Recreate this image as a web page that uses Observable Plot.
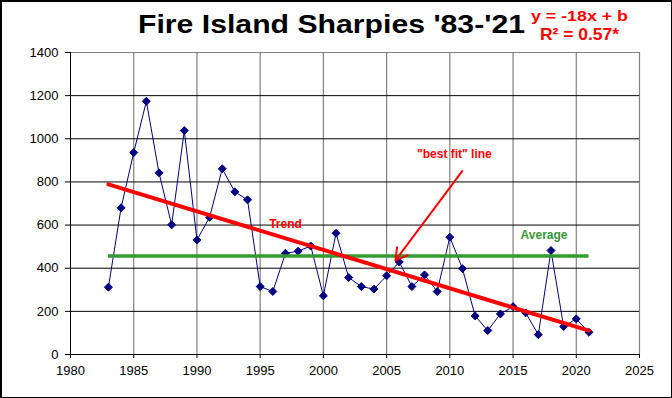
<!DOCTYPE html>
<html>
<head>
<meta charset="utf-8">
<script src="https://cdn.jsdelivr.net/npm/d3@7"></script>
<script src="https://cdn.jsdelivr.net/npm/@observablehq/plot@0.6"></script>
<style>
  html, body { margin: 0; padding: 0; background: white; }
  #wrap { position: relative; width: 672px; height: 398px; overflow: hidden; background: white; }
  #chart { position: absolute; left: 0; top: 0; }
  .t { position: absolute; white-space: nowrap; font-family: "Liberation Sans", Arial, sans-serif;
       font-weight: bold; line-height: 1; transform-origin: 0 0; }
  #title { left: 138px; top: 11px; font-size: 26px; color: black; }
  #eq1 { left: 531px; top: 7.6px; font-size: 15px; color: #ff0000; }
  #eq2 { left: 540px; top: 26.3px; font-size: 17px; color: #ff0000; }
  #border { position: absolute; left: 0; top: 0; width: 672px; height: 398px; box-sizing: border-box;
            border-style: solid; border-color: black; border-width: 2px 1px 1px 2px; pointer-events: none; }
</style>
</head>
<body>
<div id="wrap">
  <div id="chart"></div>
  <div class="t" id="title">Fire Island Sharpies '83-'21</div>
  <div class="t" id="eq1">y = -18x + b</div>
  <div class="t" id="eq2">R² = 0.57*</div>
  <div id="border"></div>
</div>
<script>
// ---- data ----
const years = [1983, 1984, 1985, 1986, 1987, 1988, 1989, 1990, 1991, 1992, 1993, 1994,
               1995, 1996, 1997, 1998, 1999, 2000, 2001, 2002, 2003, 2004, 2005, 2006,
               2007, 2008, 2009, 2010, 2011, 2012, 2013, 2014, 2015, 2016, 2017, 2018,
               2019, 2020, 2021];
const counts = [312, 680, 936, 1174, 842, 601, 1038, 531, 636, 861, 754, 717,
                315, 292, 469, 479, 503, 272, 562, 357, 315, 303, 365, 429,
                315, 369, 292, 544, 398, 179, 111, 188, 222, 193, 92, 482,
                130, 165, 103];
const averageValue = 457;
const xTicks = [1980, 1985, 1990, 1995, 2000, 2005, 2010, 2015, 2020, 2025];
const yTicks = [0, 200, 400, 600, 800, 1000, 1200, 1400];
const noteTexts = ['"best fit" line', "Trend", "Average"];
const noteYears = [2010.36, 1997.0, 2017.45];
const noteValues = [930, 605, 551];
const arrowFrom = [2010.98, 850];
const arrowTo = [2005.7, 436];

const data = years.map((year, i) => ({year, count: counts[i]}));
const notes = noteTexts.map((text, i) => ({text, x: noteYears[i], y: noteValues[i]}));
const arrows = [{x1: arrowFrom[0], y1: arrowFrom[1], x2: arrowTo[0], y2: arrowTo[1]}];

const chart = Plot.plot({
  width: 672,
  height: 398,
  marginLeft: 70,
  marginRight: 33,
  marginTop: 52,
  marginBottom: 44,
  style: {fontFamily: '"Liberation Sans", Arial, sans-serif', fontSize: "13px", color: "black", background: "transparent", overflow: "visible"},
  x: {domain: [1980, 2025]},
  y: {domain: [0, 1400]},
  marks: [
    Plot.ruleX(xTicks.slice(1), {stroke: "#808080", strokeWidth: 1.2, strokeOpacity: 1}),
    Plot.ruleY(yTicks.filter(v => v > 0 && v < 1400), {stroke: "black", strokeWidth: 1}),
    Plot.ruleY([1400], {stroke: "#808080", strokeWidth: 1}),
    Plot.axisX({ticks: xTicks, tickSize: 4, tickPadding: 7, tickFormat: d => String(d), label: null, fontSize: 13}),
    Plot.axisY({ticks: yTicks, tickSize: 5, tickPadding: 7, tickFormat: d => String(d), label: null, fontSize: 13}),
    Plot.ruleY([0], {stroke: "black", strokeWidth: 1}),
    Plot.ruleX([1980], {stroke: "black", strokeWidth: 1}),
    Plot.lineY(data, {x: "year", y: "count", stroke: "#000080", strokeWidth: 1}),
    Plot.dot(data, {x: "year", y: "count", symbol: "diamond2", r: 3.6, fill: "#000080", stroke: "#000080", strokeWidth: 1}),
    Plot.ruleY([averageValue], {x1: d3.min(years), x2: d3.max(years), stroke: "#339933", strokeWidth: 3.5}),
    Plot.linearRegressionY(data, {x: "year", y: "count", stroke: "#ff0000", strokeWidth: 4, ci: 0}),
    Plot.arrow(arrows, {x1: "x1", y1: "y1", x2: "x2", y2: "y2", stroke: "#ff0000", strokeWidth: 2, headLength: 10, bend: 0}),
    Plot.text(notes.filter(d => d.text !== "Average"), {x: "x", y: "y", text: "text", fill: "#ff0000", fontWeight: "bold", fontSize: 12}),
    Plot.text(notes.filter(d => d.text === "Average"), {x: "x", y: "y", text: "text", fill: "#339933", fontWeight: "bold", fontSize: 12})
  ]
});
document.getElementById("chart").appendChild(chart);

// stretch header texts horizontally to the reference widths
[["title", 387], ["eq1", 97], ["eq2", 79]].forEach(([id, target]) => {
  const el = document.getElementById(id);
  const w = el.getBoundingClientRect().width;
  if (w > 0) el.style.transform = `scaleX(${target / w})`;
});
</script>
</body>
</html>
